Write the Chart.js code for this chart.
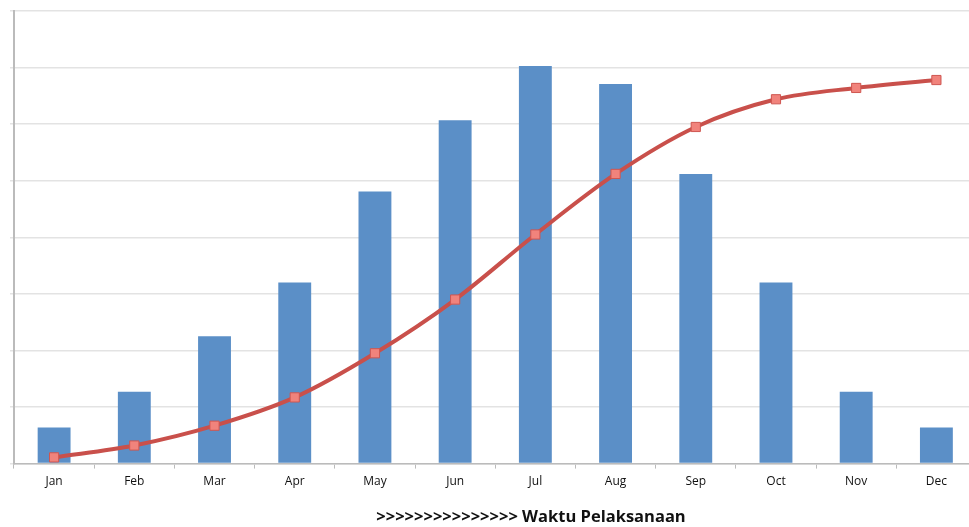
<!DOCTYPE html>
<html>
<head>
<meta charset="utf-8">
<script src="https://cdn.jsdelivr.net/npm/chart.js@4"></script>
<style>
  html, body { margin: 0; padding: 0; background: #fff; overflow: hidden; }
  #wrap { width: 984px; height: 527px; }
</style>
</head>
<body>
<div id="wrap"><canvas id="chart"></canvas></div>
<script>
let months = ['Jan', 'Feb', 'Mar', 'Apr', 'May', 'Jun', 'Jul', 'Aug', 'Sep', 'Oct', 'Nov', 'Dec'];
let monthly = [6.4, 12.7, 22.5, 32, 48.1, 60.7, 70.3, 67.1, 51.2, 32, 12.7, 6.4];
let cumulative = [1.1, 3.2, 6.7, 11.7, 19.5, 29.0, 40.5, 51.2, 59.5, 64.4, 66.4, 67.8];
let axisTitle = '>>>>>>>>>>>>>>> Waktu Pelaksanaan';

let titlePlugin = {
    id: 'bottomTitle',
    afterDraw: function(chart) {
        let ctx = chart.ctx;
        ctx.save();
        ctx.font = 'bold 16.5px "Open Sans", sans-serif';
        ctx.fillStyle = '#111';
        ctx.textAlign = 'center';
        ctx.textBaseline = 'middle';
        ctx.fillText(axisTitle, 531, 517);
        ctx.restore();
    }
};

let chart = new Chart(document.getElementById('chart'), {
    type: 'bar',
    data: {
        labels: months,
        datasets: [
            {
                type: 'line',
                data: cumulative,
                borderColor: '#c9504b',
                borderWidth: 4,
                tension: 0.4,
                cubicInterpolationMode: 'monotone',
                pointStyle: 'rect',
                pointRadius: 6.5,
                pointBackgroundColor: '#f1837c',
                pointBorderColor: '#cf5650',
                pointBorderWidth: 1,
                order: 0
            },
            {
                data: monthly,
                backgroundColor: '#5b8fc7',
                barPercentage: 0.41,
                categoryPercentage: 1,
                order: 1
            }
        ]
    },
    options: {
        responsive: true,
        maintainAspectRatio: false,
        animation: false,
        layout: { padding: { left: 10, top: 11, right: 0, bottom: 32 } },
        plugins: { legend: { display: false }, tooltip: { enabled: false } },
        scales: {
            x: {
                offset: true,
                grid: { offset: true, drawOnChartArea: false, tickLength: 5, color: '#bbb' },
                border: { color: '#bbb', width: 1.5 },
                ticks: { color: '#111', font: { family: '"Open Sans", sans-serif', size: 12 }, padding: 6 }
            },
            y: {
                min: 0,
                max: 80,
                ticks: { display: false, stepSize: 10 },
                grid: { color: '#e3e3e3', lineWidth: 1.5, tickLength: 4 },
                border: { color: '#bbb', width: 2 }
            }
        }
    },
    plugins: [titlePlugin]
});
</script>
</body>
</html>
